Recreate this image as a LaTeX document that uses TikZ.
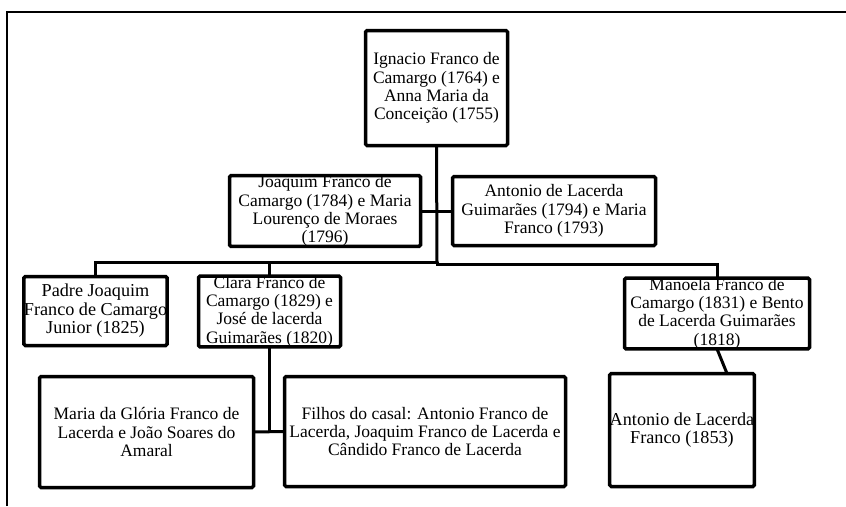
\documentclass[tikz,border=0pt]{standalone}
\usepackage{fontspec}
\setmainfont{Liberation Serif}
\begin{document}
\begin{tikzpicture}[x=1pt,y=-1pt,
  box/.style={draw, line width=3.5pt, rounded corners=1.5pt, fill=white,
    inner sep=0pt, outer sep=0pt, align=center,
    font=\fontsize{17.5}{18.3}\selectfont},
  bigtext/.style={font=\fontsize{18.2}{18.6}\selectfont},
  link/.style={line width=3pt},
  frame/.style={line width=1.2pt}]
\useasboundingbox (0,0) rectangle (846,506);
\draw[frame] (7,506) -- (7,12) -- (846,12);

\node[box, minimum width=142, minimum height=115] (ign) at (436.5,88)
  {Ignacio Franco de\\Camargo (1764) e\\Anna Maria da\\Conceição (1755)};
\node[box, minimum width=191, minimum height=68] (joa) at (325,211)
  {Joaquim Franco de\\Camargo (1784) e Maria\\Lourenço de Moraes\\(1796)};
\node[box, minimum width=203, minimum height=69] (ant) at (554,211)
  {Antonio de Lacerda\\Guimarães (1794) e Maria\\Franco (1793)};
\node[box, bigtext, minimum width=142, minimum height=69] (pad) at (95.5,311)
  {Padre Joaquim\\Franco de Camargo\\Junior (1825)};
\node[box, minimum width=142, minimum height=69] (cla) at (269.5,311.5)
  {Clara Franco de\\Camargo (1829) e\\José de lacerda\\Guimarães (1820)};
\node[box, minimum width=185, minimum height=69] (man) at (717,313.5)
  {Manoela Franco de\\Camargo (1831) e Bento\\de Lacerda Guimarães\\(1818)};
\node[box, minimum width=214, minimum height=111] (mar) at (146.5,432)
  {Maria da Glória Franco de\\Lacerda e João Soares do\\Amaral};
\node[box, minimum width=281, minimum height=110] (fil) at (425,431.5)
  {Filhos do casal: Antonio Franco de\\Lacerda, Joaquim Franco de Lacerda e\\Cândido Franco de Lacerda};
\node[box, bigtext, minimum width=141, minimum height=113] (afr) at (682,430)
  {Antonio de Lacerda\\Franco (1853)};

\coordinate (j1) at (437,262);
\coordinate (j2) at (437,264);

\draw[link] (ign.south) -- (j1);
\draw[link] (joa.east) -- (ant.west);
\draw[link] (pad.north) |- (j1);
\draw[link] (cla.north) -- (cla.north |- j1);
\draw[link] (j1) -- (j2) -| (man.north);
\draw[link] (cla.south) -- (cla.south |- mar.east);
\draw[link] (mar.east) -- (fil.west);
\draw[link] (man.south) -- ([xshift=45pt]afr.north);
\end{tikzpicture}
\end{document}
